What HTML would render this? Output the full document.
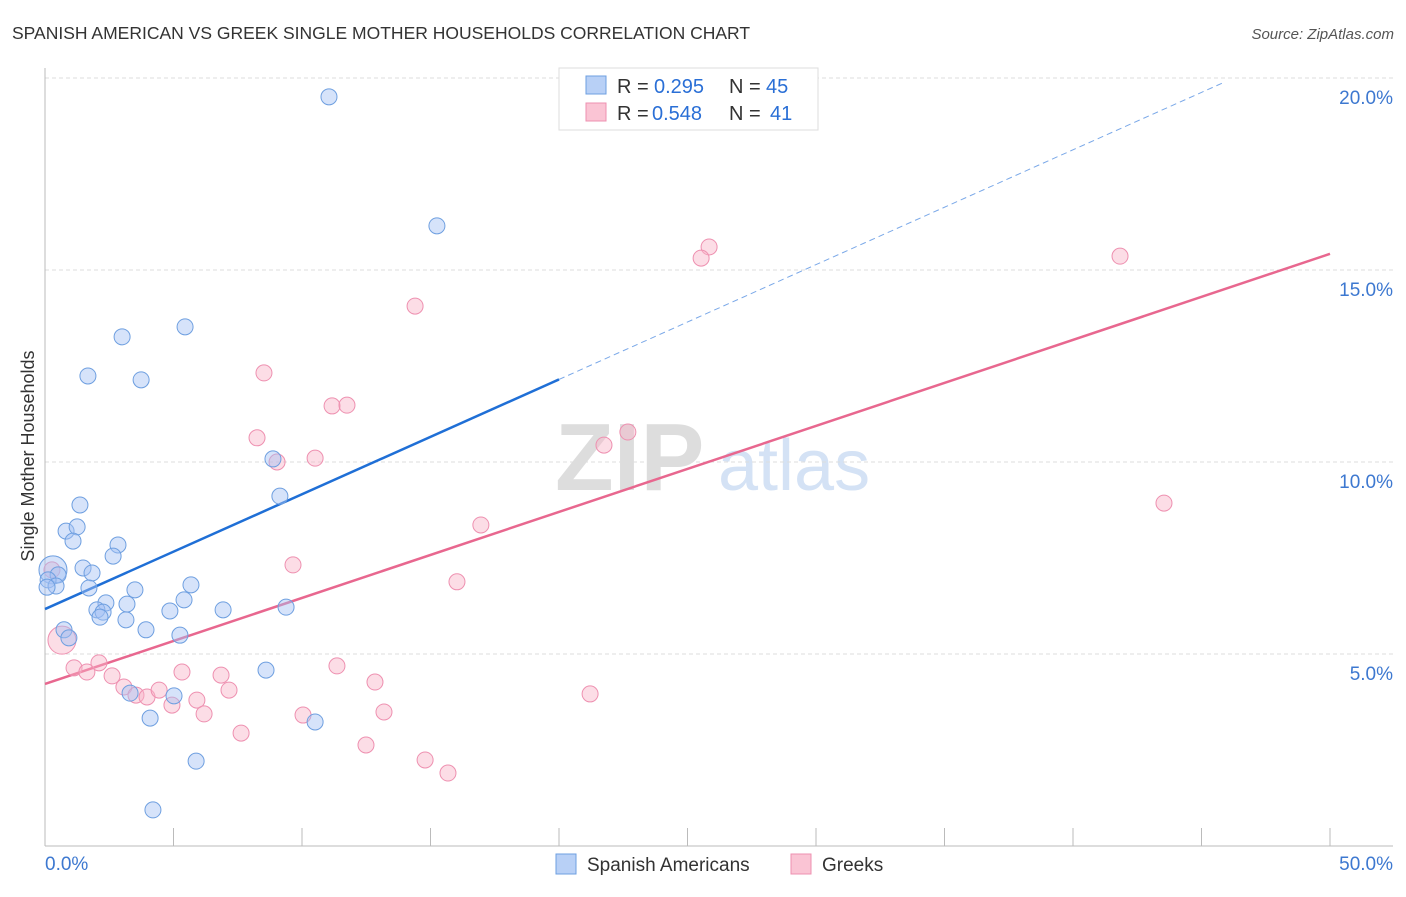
<!DOCTYPE html>
<html><head><meta charset="utf-8"><style>
body{margin:0;background:#fff;font-family:"Liberation Sans",sans-serif;}
svg text{font-family:"Liberation Sans",sans-serif;}
</style></head><body>
<svg id="chart" width="1406" height="892" xmlns="http://www.w3.org/2000/svg">
<text x="12" y="39" font-size="17.5" fill="#333">SPANISH AMERICAN VS GREEK SINGLE MOTHER HOUSEHOLDS CORRELATION CHART</text>
<text x="1394" y="39" font-size="15" fill="#555" text-anchor="end" font-style="italic">Source: ZipAtlas.com</text>
<g>
<text x="555" y="490" font-size="96" fill="#ddd" font-family="Liberation Serif" font-weight="bold">ZIP</text>
<text x="718" y="490" font-size="72" fill="#d4e2f5">atlas</text>
</g>
<g id="grid"></g>
<g id="axes"></g>
<g id="lines"></g>
<g id="points"></g>
<text transform="translate(34,456) rotate(-90)" font-size="18" fill="#333" text-anchor="middle">Single Mother Households</text>
<g>
<rect x="559" y="68" width="259" height="62" fill="#fff" stroke="#ddd"/>
<rect x="586" y="76" width="20" height="18" fill="#b8d0f6" stroke="#6e9fe0"/>
<rect x="586" y="103" width="20" height="18" fill="#fac4d4" stroke="#ee90b0"/>
<text x="617" y="93" font-size="20" fill="#333">R =</text>
<text x="654" y="93" font-size="20" fill="#2a6fd6">0.295</text>
<text x="729" y="93" font-size="20" fill="#333">N =</text>
<text x="766" y="93" font-size="20" fill="#2a6fd6">45</text>
<text x="617" y="120" font-size="20" fill="#333">R =</text>
<text x="652" y="120" font-size="20" fill="#2a6fd6">0.548</text>
<text x="729" y="120" font-size="20" fill="#333">N =</text>
<text x="770" y="120" font-size="20" fill="#2a6fd6">41</text>
</g>
<g>
<rect x="556" y="854" width="20" height="20" fill="#b8d0f6" stroke="#6e9fe0"/>
<text x="587" y="871" font-size="19" fill="#333">Spanish Americans</text>
<rect x="791" y="854" width="20" height="20" fill="#fac4d4" stroke="#ee90b0"/>
<text x="822" y="871" font-size="19" fill="#333">Greeks</text>
</g>
</svg>
<script>
const blueX=[11.05,15.25,3.00,5.45,1.67,3.74,8.87,9.14,1.36,0.82,1.25,1.09,2.84,2.65,1.48,1.83,0.31,0.51,0.12,0.43,1.71,3.50,5.68,5.41,2.37,3.19,2.02,2.26,4.86,6.93,9.38,3.15,2.14,0.74,3.93,5.25,0.93,8.60,3.31,5.02,4.09,10.51,5.88,4.20,0.08];
const blueY=[19.51,16.15,13.26,13.52,12.24,12.14,10.08,9.11,8.88,8.20,8.31,7.94,7.84,7.55,7.24,7.11,7.19,7.06,6.93,6.77,6.72,6.67,6.80,6.41,6.33,6.30,6.15,6.09,6.12,6.15,6.22,5.89,5.96,5.63,5.63,5.49,5.42,4.58,3.98,3.91,3.33,3.23,2.21,0.94,6.74];
const pinkX=[25.84,25.53,41.83,14.40,8.52,11.17,11.75,8.25,22.68,21.75,9.03,10.51,16.96,43.54,9.65,16.03,0.27,0.66,1.13,1.63,2.10,2.61,3.07,3.54,3.97,4.44,4.94,5.33,5.91,6.19,6.85,7.16,7.63,10.04,11.36,12.49,12.84,13.19,14.79,15.68,21.21];
const pinkY=[15.60,15.31,15.36,14.06,12.32,11.46,11.48,10.63,10.78,10.44,10.00,10.10,8.36,8.93,7.32,6.88,7.19,5.36,4.64,4.53,4.77,4.43,4.14,3.93,3.88,4.06,3.67,4.53,3.80,3.44,4.45,4.06,2.94,3.41,4.69,2.63,4.27,3.49,2.24,1.90,3.96];
const blueLine=[6.17,0.299];
const pinkLine=[4.22,0.224];
const yTicks=[5,10,15,20];
const yTickLabels=["5.0%","10.0%","15.0%","20.0%"];
const xTicks=[0,5,10,15,20,25,30,35,40,45,50];
const NS="http://www.w3.org/2000/svg";
const sx=v=>45+v*25.7, sy=v=>846-v*38.4;
function mk(parent,tag,attrs){const e=document.createElementNS(NS,tag);for(const k in attrs)e.setAttribute(k,attrs[k]);document.getElementById(parent).appendChild(e);return e;}
yTicks.forEach((t,i)=>{
 const g=mk('grid','line',{x1:45,x2:1393,y1:sy(t),y2:sy(t),stroke:'#ddd','stroke-dasharray':'4,3'});
 
 
 const l=mk('grid','text',{x:1393,y:sy(t)+26,'font-size':19,fill:'#3d78d0','text-anchor':'end'});
 l.textContent=yTickLabels[i];
 
 
});
const ax=mk('axes','line',{x1:45,x2:1393,y1:846,y2:846,stroke:'#bbb'});


const ay=mk('axes','line',{x1:45,x2:45,y1:68,y2:846,stroke:'#bbb'});


xTicks.forEach(t=>{
 const k=mk('axes','line',{x1:sx(t),x2:sx(t),y1:828,y2:846,stroke:'#bbb'});
 
 
});
const xl0=mk('axes','text',{x:45,y:870,'font-size':19,fill:'#3d78d0'});xl0.textContent=xTicks[0].toFixed(1)+'%';


const xl1=mk('axes','text',{x:1393,y:870,'font-size':19,fill:'#3d78d0','text-anchor':'end'});xl1.textContent=xTicks[xTicks.length-1].toFixed(1)+'%';


function pts(X,Y,fill,stroke,name,bigIdx){X.forEach((x,i)=>{
 const c=mk('points','circle',{cx:sx(x),cy:sy(Y[i]),r:(i===bigIdx?14:8),fill:fill,stroke:stroke,'stroke-width':1});
 
 
});}
pts(pinkX,pinkY,'rgba(248,180,200,0.45)','#ee90b0','greek-point',17);
pts(blueX,blueY,'rgba(164,194,244,0.45)','#6e9fe0','spanish-american-point',16);
const bEnd=20, bDash=(19.9-blueLine[0])/blueLine[1];
const bl=mk('lines','line',{x1:sx(0),y1:sy(blueLine[0]),x2:sx(bEnd),y2:sy(blueLine[0]+blueLine[1]*bEnd),stroke:'#1f6fd6','stroke-width':2.5});


const bd=mk('lines','line',{x1:sx(bEnd),y1:sy(blueLine[0]+blueLine[1]*bEnd),x2:sx(bDash),y2:sy(19.9),stroke:'#7aa8e8','stroke-width':1,'stroke-dasharray':'6,4'});


const pl=mk('lines','line',{x1:sx(0),y1:sy(pinkLine[0]),x2:sx(50),y2:sy(pinkLine[0]+pinkLine[1]*50),stroke:'#e8678f','stroke-width':2.5});


</script>
</body></html>
